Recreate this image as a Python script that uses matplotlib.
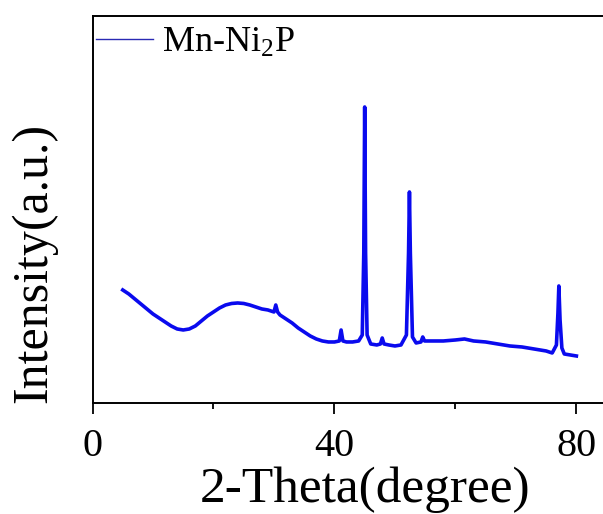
import matplotlib
matplotlib.use("Agg")
import matplotlib.pyplot as plt
from matplotlib.lines import Line2D
import numpy as np

# XRD pattern of Mn-Ni2P (arbitrary units)
two_theta = [5, 6, 7, 8, 9, 10, 11, 12, 13, 14, 15, 16, 17, 18, 19, 20,
             21, 22, 23, 24, 25, 26, 27, 28, 29, 30, 30.3, 30.6, 31, 32,
             33, 34, 35, 36, 37, 38, 39, 40, 40.8, 41.1, 41.4, 42, 43, 44,
             44.6, 44.85, 45.0, 45.15, 45.4, 46, 47, 47.6, 47.9, 48.2, 49,
             50, 51, 51.9, 52.25, 52.4, 52.55, 52.9, 53.5, 54.3, 54.6, 54.9,
             56, 58, 60, 61.5, 63, 65, 67, 69, 71, 73, 75, 76, 76.7, 76.95,
             77.1, 77.3, 77.6, 78, 79, 80]
intensity = [113, 109, 104, 99, 94, 89, 85, 81, 77, 74, 73, 74, 77, 82, 87, 91,
             95, 98, 99.5, 100, 99.5, 98, 96, 94, 93, 91, 98, 91, 88, 84,
             80, 75, 71, 67, 64, 62, 61, 61, 62, 73, 62, 61, 61, 62,
             68, 150, 296, 150, 68, 59, 58, 59, 65, 59, 58,
             57, 58, 68, 150, 211, 150, 66, 60, 61, 66, 62,
             62, 62, 63, 64, 62, 61, 59, 57, 56, 54, 52, 50, 58, 90,
             117, 83, 55, 49, 48, 47]

x_ticks = [0, 40, 80]
x_minor = [20, 60]

plt.rcParams['font.family'] = ['Liberation Serif', 'DejaVu Serif']
plt.rcParams['mathtext.fontset'] = 'custom'
plt.rcParams['mathtext.rm'] = 'Liberation Serif'
plt.rcParams['mathtext.it'] = 'Liberation Serif'

fig = plt.figure(figsize=(6.03, 5.14), dpi=100)
ax = fig.add_axes([0.1534, 0.216, 0.8466, 0.7529])

ax.plot(two_theta, intensity, color='#0a0aee', lw=2.6, solid_joinstyle='round')

ax.set_xlim(0, 84.4)
ax.set_ylim(0, 387)

ax.set_xticks(x_ticks)
ax.set_xticks(x_minor, minor=True)
ax.set_yticks([])
ax.tick_params(axis='x', which='major', direction='out', length=8, width=1.3,
               labelsize=29, pad=10)
ax.tick_params(axis='x', which='minor', direction='out', length=4, width=1.3)

for side in ['left', 'bottom', 'top']:
    ax.spines[side].set_linewidth(1.4)
ax.spines['right'].set_visible(False)

ax.set_xlabel('2-Theta(degree)', fontsize=37)
ax.xaxis.set_label_coords(0.533, -0.163)
ax.set_ylabel('Intensity(a.u.)', fontsize=36)
ax.yaxis.set_label_coords(-0.07, 0.362)

handle = Line2D([], [], color='#2a2ab4', lw=1.0)
ax.legend([handle], ['Mn-Ni$_2$P'], loc='center left', bbox_to_anchor=(0.006, 0.93),
          frameon=False, fontsize=26, handlelength=1.6, handletextpad=0.25,
          borderaxespad=0, borderpad=0)

plt.savefig('out.png', dpi=100)
